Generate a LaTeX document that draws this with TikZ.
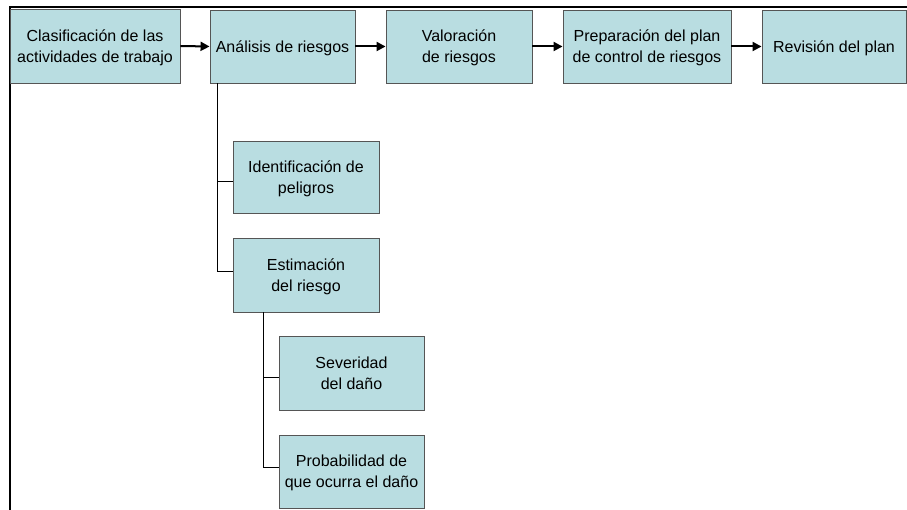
\documentclass[tikz,border=0pt]{standalone}
\usepackage{fontspec}
\setmainfont{Liberation Sans}
\usetikzlibrary{arrows.meta}
\definecolor{boxfill}{RGB}{185,221,225}
\definecolor{boxline}{RGB}{85,85,85}
\begin{document}
\begin{tikzpicture}[x=1pt,y=-1pt,
  box/.style={draw=boxline,line width=0.9pt,fill=boxfill,align=center,inner sep=0pt,
    text depth=-3.5pt,font=\fontsize{16}{21}\selectfont},
  flow/.style={line width=2pt,-{Triangle[length=9pt,width=9pt]}},
  tree/.style={line width=0.8pt,draw=black}]
\useasboundingbox (0,0) rectangle (907,510);
% frame
\draw[line width=2.2pt] (9,7) -- (907,7);
\draw[line width=2.2pt] (10,7) -- (10,510);
% main row
\node[box,minimum width=170pt,minimum height=74pt] (a1) at (95,46) {Clasificación de las\\actividades de trabajo};
\node[box,minimum width=145pt,minimum height=73pt] (a2) at (282.5,46.5) {Análisis de riesgos};
\node[box,minimum width=146pt,minimum height=73pt] (a3) at (459,46.5) {Valoración\\de riesgos};
\node[box,minimum width=168pt,minimum height=73pt] (a4) at (647,46.5) {Preparación del plan\\de control de riesgos};
\node[box,minimum width=144pt,minimum height=73pt] (a5) at (834,46.5) {Revisión del plan};
\draw[flow] (a1.east) -- (a2.west);
\draw[flow] (a2.east) -- (a3.west);
\draw[flow] (a3.east) -- (a4.west);
\draw[flow] (a4.east) -- (a5.west);
% sub-tree of Análisis
\node[box,minimum width=146pt,minimum height=72pt] (id) at (306,177) {Identificación de\\peligros};
\node[box,minimum width=146pt,minimum height=74pt] (est) at (306,275) {Estimación\\del riesgo};
\coordinate (t1) at ([xshift=8pt]a2.south west);
\draw[tree] (t1) |- ([yshift=-4pt]id.west);
\draw[tree] (t1) |- ([yshift=4pt]est.west);
% sub-tree of Estimación
\node[box,minimum width=145pt,minimum height=74pt] (sev) at (351.5,373) {Severidad\\del daño};
\node[box,minimum width=145pt,minimum height=73pt] (prob) at (351.5,471.5) {Probabilidad de\\que ocurra el daño};
\coordinate (t2) at ([xshift=31pt]est.south west);
\draw[tree] (t2) |- ([yshift=-4pt]sev.west);
\draw[tree] (t2) |- ([yshift=4pt]prob.west);
\end{tikzpicture}
\end{document}
